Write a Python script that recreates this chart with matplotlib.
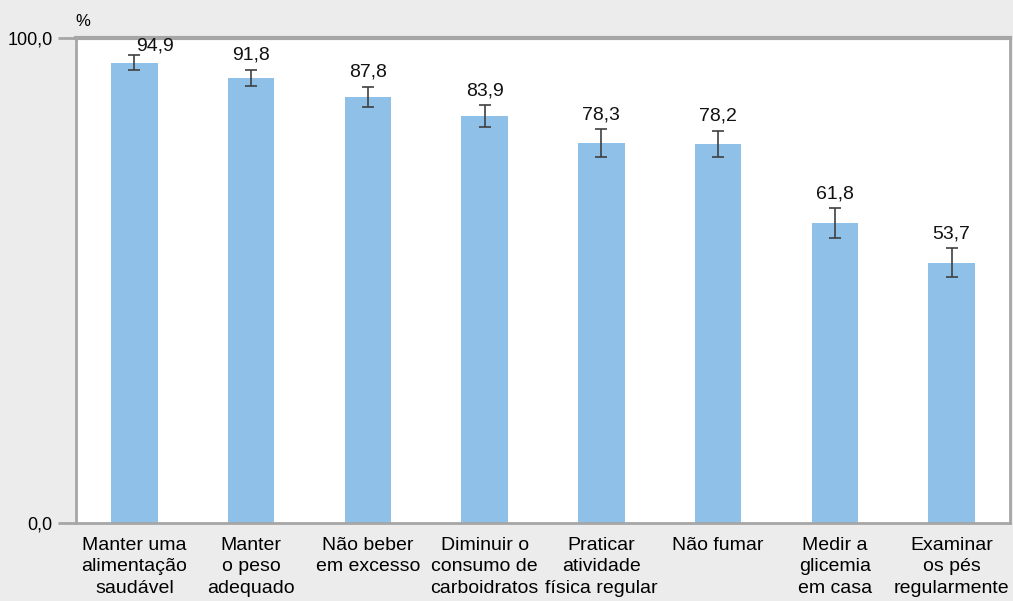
import numpy as np
import matplotlib
matplotlib.use('Agg')
from matplotlib import pyplot as plt

# data
categories = ['Manter uma\nalimentação\nsaudável',
              'Manter\no peso\nadequado',
              'Não beber\nem excesso',
              'Diminuir o\nconsumo de\ncarboidratos',
              'Praticar\natividade\nfísica regular',
              'Não fumar',
              'Medir a\nglicemia\nem casa',
              'Examinar\nos pés\nregularmente']
values = [94.9, 91.8, 87.8, 83.9, 78.3, 78.2, 61.8, 53.7]
errors = [1.5, 1.7, 2.1, 2.2, 2.85, 2.7, 3.05, 2.9]
labels = ['94,9', '91,8', '87,8', '83,9', '78,3', '78,2', '61,8', '53,7']

plt.rcParams['font.family'] = ['Liberation Sans', 'DejaVu Sans']

bg = '#ececec'
spine_col = '#a6a6a6'

fig = plt.figure(figsize=(10.13, 6.01), dpi=100, facecolor=bg)
ax = fig.add_axes([76/1013, 1 - 523/601, 934/1013, (523 - 38)/601])
ax.set_facecolor('white')

x = np.arange(len(values))
ax.bar(x, values, width=0.4, color='#8fc0e8', zorder=2)
ax.errorbar(x, values, yerr=errors, fmt='none', ecolor='#404040',
            elinewidth=1.2, capsize=4, capthick=1.2, zorder=3)

# value labels above the error bars
for i in range(len(values)):
    dx = 0.18 if i == 0 else 0
    dy = 0.1 if i == 0 else 1.3
    ax.text(x[i] + dx, values[i] + errors[i] + dy, labels[i],
            ha='center', va='bottom', fontsize=14, color='#111111')

ax.set_xlim(-0.5, len(values) - 0.5)
ax.set_ylim(0, 100)
ax.set_yticks([0, 100])
ax.set_yticklabels(['0,0', '100,0'], fontsize=13)
ax.set_xticks(x)
ax.set_xticklabels(categories, fontsize=14, linespacing=1.35)
ax.tick_params(axis='x', length=0, pad=10)
ax.tick_params(axis='y', length=13, width=2, color=spine_col, pad=4)

for side in ['left', 'bottom', 'right']:
    ax.spines[side].set_color(spine_col)
    ax.spines[side].set_linewidth(2)
ax.spines['top'].set_color(spine_col)
ax.spines['top'].set_linewidth(3)

fig.text(75/1013, 1 - 21/601, '%', fontsize=12, ha='left', va='center')

fig.savefig('out.png', dpi=100, facecolor=bg)
